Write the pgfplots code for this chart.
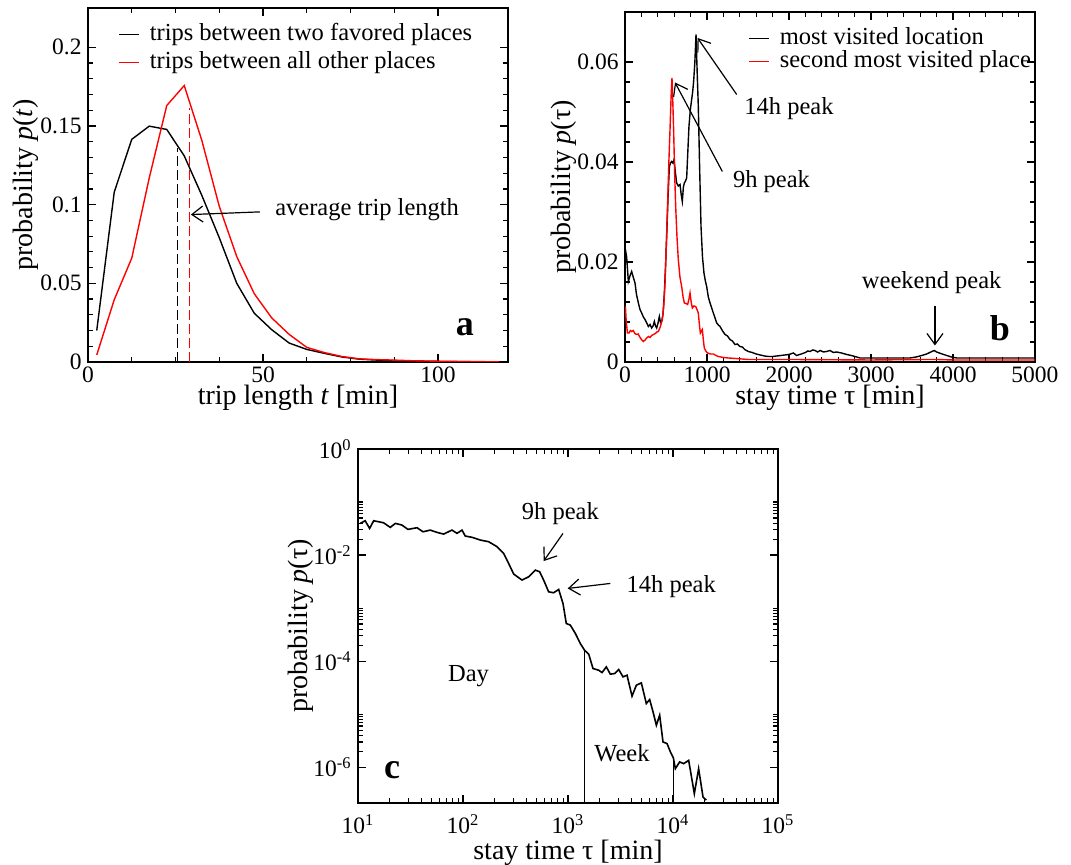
\documentclass[border=0pt]{standalone}
\usepackage{fontspec}
\setmainfont{Liberation Serif}
\usepackage{pgfplots}
\pgfplotsset{compat=1.18}
\usetikzlibrary{arrows.meta}

\tikzset{
  note/.style={font=\fontsize{12.25}{14}\selectfont},
  tag/.style={font=\bfseries\fontsize{18}{20}\selectfont},
  arr/.style={line width=0.6pt, -{Straight Barb[length=5.5pt,width=8pt]}},
}
\pgfplotsset{
  panel/.style={
    scale only axis,
    scaled ticks=false,
    axis line style={line width=0.7pt},
    tick style={line width=0.6pt, black},
    major tick length=4pt, minor tick length=2.5pt,
    tick align=inside,
    tick label style={font=\fontsize{11.75}{14}\selectfont},
    /pgf/number format/assume math mode=true,
    every axis x label/.style={at={(axis description cs:0.5,0)}, anchor=base,
      yshift=-21.5pt, inner sep=0pt, font=\fontsize{14}{16}\selectfont},
    every axis y label/.style={rotate=90, anchor=center, inner sep=0pt,
      font=\fontsize{14}{16}\selectfont},
    x tick label style={anchor=base, yshift=-10.5pt, inner sep=0pt},
    y tick label style={anchor=east, xshift=-3pt, inner sep=0pt},
    legend image code/.code={\draw[#1] (0pt,0pt) -- (10pt,0pt);},
    legend cell align=left,
    legend style={draw=none, fill=none, font=\fontsize{12.25}{14}\selectfont,
      anchor=north west, inner sep=0pt, column sep=5pt,
      nodes={inner sep=0pt, text height=9pt, text depth=3pt}},
  },
}

\begin{document}
\begin{tikzpicture}

% ---- panel a: trip length distribution
\begin{axis}[panel, at={(44pt,251.5pt)}, anchor=south west,
  width=210pt, height=177pt,
  xmin=0, xmax=120, ymin=0, ymax=0.225,
  xtick={0,50,100}, xticklabels={0,50,100}, minor x tick num=3,
  ytick={0,0.05,0.1,0.15,0.2}, yticklabels={0,0.05,0.1,0.15,0.2}, minor y tick num=4,
  xlabel={trip length \textit{t} [min]},
  ylabel={probability \textit{p}(\textit{t})},
  ylabel style={at={(axis description cs:-0.1476,0.5)}},
  legend style={at={(axis description cs:0,1)}, xshift=15pt, yshift=-7pt, row sep=2pt},
]
\addplot[black, line width=0.7pt] coordinates {
 (2.5,0.0200) (7.5,0.108) (12.5,0.1415) (17.5,0.1499) (22.5,0.1478) (27.5,0.131)
 (32.5,0.106) (37.5,0.079) (42.5,0.050) (47.5,0.031) (52.5,0.0205) (57.5,0.012)
 (62.5,0.008) (67.5,0.0055) (72.5,0.0032) (77.5,0.0018) (82.5,0.0012) (87.5,0.0008)
 (92.5,0.0006) (97.5,0.0004) (102.5,0.0003) (107.5,0.0002) (112.5,0.00015) (117.5,0.0001)};
\addlegendentry{trips between two favored places}
\addplot[red, line width=0.7pt] coordinates {
 (2.5,0.0045) (7.5,0.0396) (12.5,0.066) (17.5,0.117) (22.5,0.163) (27.5,0.1757)
 (32.5,0.141) (37.5,0.099) (42.5,0.067) (47.5,0.0434) (52.5,0.028) (57.5,0.0175)
 (62.5,0.0093) (67.5,0.006) (72.5,0.0035) (77.5,0.002) (82.5,0.0015) (87.5,0.0012)
 (92.5,0.0008) (97.5,0.0006) (102.5,0.0004) (107.5,0.0003) (112.5,0.0002) (117.5,0.0001)};
\addlegendentry{trips between all other places}
\addplot[black, line width=0.75pt, dash pattern=on 5pt off 2pt, forget plot] coordinates {(25.5,0) (25.5,0.136)};
\addplot[red, line width=0.8pt, dash pattern=on 5pt off 2pt, forget plot] coordinates {(29.05,0) (29.05,0.1616)};
\draw[arr] (axis cs:49.1,0.0954) -- (axis cs:29.4,0.0937);
\node[note, anchor=west] at (axis cs:51.5,0.0969) {average trip length};
\node[tag] at (axis cs:107.7,0.0218) {a};
\end{axis}

% ---- panel b: stay time, linear
\begin{axis}[panel, at={(312.5pt,251.5pt)}, anchor=south west,
  width=205pt, height=175pt,
  xmin=0, xmax=5000, ymin=0, ymax=0.07,
  xtick={0,1000,2000,3000,4000,5000}, xticklabels={0,1000,2000,3000,4000,5000}, minor x tick num=4,
  ytick={0,0.02,0.04,0.06}, yticklabels={0,0.02,0.04,0.06}, minor y tick num=4,
  xlabel={stay time τ [min]},
  ylabel={probability \textit{p}(τ)},
  ylabel style={at={(axis description cs:-0.1488,0.5)}},
  legend style={at={(axis description cs:0,1)}, xshift=61.5pt, yshift=-7pt, row sep=-0.3pt},
]
\addplot[black, line width=0.7pt] coordinates {
 (5,0.0225) (20,0.021) (41,0.0161) (60,0.0172) (81,0.0181) (100,0.017) (122,0.0158)
 (140,0.0135) (163,0.0118) (183,0.0105) (203,0.0098) (224,0.009) (244,0.0085) (265,0.0078)
 (285,0.0071) (305,0.0075) (325,0.0068) (342,0.0072) (358,0.0081) (372,0.0072) (386,0.0068)
 (403,0.0078) (419,0.0091) (433,0.0079) (447,0.0081) (463,0.0095) (480,0.0138) (494,0.019)
 (508,0.0251) (525,0.033) (541,0.0391) (555,0.0398) (569,0.0401) (583,0.0398) (598,0.0405)
 (614,0.038) (630,0.0358) (650,0.0352) (671,0.0355) (685,0.0335) (699,0.0321) (712,0.035)
 (724,0.0358) (738,0.0362) (752,0.0368) (766,0.042) (780,0.0471) (797,0.0505) (813,0.0525)
 (825,0.054) (837,0.0561) (852,0.060) (866,0.0655) (880,0.058) (894,0.0511) (910,0.039)
 (927,0.0271) (945,0.021) (963,0.0178) (980,0.0162) (996,0.0151) (1016,0.013) (1037,0.0118)
 (1057,0.0108) (1077,0.0098) (1098,0.0088) (1118,0.0078) (1139,0.0074) (1159,0.0071)
 (1190,0.0062) (1220,0.0055) (1250,0.0052) (1280,0.0045) (1310,0.0042) (1341,0.0035)
 (1370,0.0036) (1400,0.0031) (1430,0.0030) (1460,0.0025) (1504,0.0021) (1550,0.0019)
 (1600,0.0016) (1650,0.0014) (1700,0.0012) (1750,0.0011) (1800,0.0011) (1850,0.0012)
 (1900,0.0013) (1950,0.0014) (2000,0.0015) (2053,0.0018) (2093,0.0013) (2150,0.0016)
 (2200,0.0019) (2230,0.0022) (2256,0.0021) (2290,0.0024) (2317,0.0023) (2350,0.0020)
 (2380,0.0023) (2420,0.0020) (2459,0.0021) (2500,0.0023) (2540,0.0019) (2581,0.0020)
 (2640,0.0018) (2703,0.0015) (2760,0.0013) (2825,0.0010) (2866,0.0008) (3000,0.0008)
 (3200,0.0008) (3400,0.0008) (3476,0.0008) (3550,0.0010) (3620,0.0013) (3679,0.0016)
 (3730,0.0020) (3770,0.0023) (3800,0.0020) (3850,0.0017) (3923,0.0013) (3980,0.0010)
 (4045,0.0008) (4500,0.0008) (5000,0.0008)};
\addlegendentry{most visited location}
\addplot[red, line width=0.7pt] coordinates {
 (5,0.0111) (15,0.008) (30,0.0058) (49,0.0058) (65,0.0063) (81,0.0061) (100,0.0063)
 (120,0.0057) (142,0.0055) (160,0.0056) (180,0.0050) (200,0.0045) (224,0.0041) (245,0.0044)
 (265,0.0048) (285,0.0051) (305,0.0049) (325,0.0053) (346,0.0055) (370,0.0057) (390,0.0060)
 (407,0.0061) (430,0.0070) (455,0.0085) (472,0.011) (488,0.0158) (505,0.024) (520,0.0318)
 (535,0.040) (549,0.0465) (562,0.053) (573,0.0568) (583,0.052) (593,0.0465) (605,0.038)
 (618,0.0311) (634,0.025) (650,0.0205) (670,0.017) (691,0.0151) (708,0.0130) (724,0.0118)
 (744,0.0117) (764,0.0115) (779,0.0125) (793,0.0138) (807,0.0120) (821,0.0108) (840,0.0112)
 (862,0.0111) (878,0.0105) (894,0.0098) (907,0.0075) (919,0.0058) (931,0.0062) (943,0.0065)
 (955,0.0045) (967,0.0028) (985,0.0022) (1008,0.0018) (1040,0.0016) (1077,0.0016)
 (1110,0.0013) (1138,0.0011) (1200,0.0009) (1260,0.0008) (1350,0.0007) (1500,0.0005)
 (2000,0.0005) (3000,0.0004) (3700,0.0005) (3800,0.0005) (4000,0.0004) (5000,0.0004)};
\addlegendentry{second most visited place}
\draw[arr] (axis cs:1362,0.0535) -- (axis cs:885,0.0648);
\node[note, anchor=west] at (axis cs:1370,0.0507) {14h peak};
\draw[arr] (axis cs:1187,0.0381) -- (axis cs:610,0.0559);
\node[note, anchor=west] at (axis cs:1232,0.0361) {9h peak};
\node[note] at (axis cs:3740,0.0159) {weekend peak};
\draw[arr] (axis cs:3780,0.0111) -- (axis cs:3780,0.0033);
\node[tag] at (axis cs:4573,0.0068) {b};
\end{axis}

% ---- panel c: stay time, log-log
\begin{axis}[panel, at={(179pt,31pt)}, anchor=south west,
  width=210pt, height=177pt,
  xmode=log, ymode=log,
  xmin=10, xmax=100000, ymin=2.12e-7, ymax=1,
  xtick={10,100,1000,10000,100000},
  xticklabels={10\textsuperscript{1},10\textsuperscript{2},10\textsuperscript{3},10\textsuperscript{4},10\textsuperscript{5}},
  ytick={1,1e-2,1e-4,1e-6},
  yticklabels={10\textsuperscript{0},10\textsuperscript{-2},10\textsuperscript{-4},10\textsuperscript{-6}},
  minor ytick={2e-2,3e-2,4e-2,5e-2,6e-2,7e-2,8e-2,9e-2,1e-1,
               2e-4,3e-4,4e-4,5e-4,6e-4,7e-4,8e-4,9e-4,1e-3,
               2e-6,3e-6,4e-6,5e-6,6e-6,7e-6,8e-6,9e-6,1e-5},
  x tick label style={yshift=-5pt},
  xlabel={stay time τ [min]},
  xlabel style={yshift=-7pt},
  ylabel={probability \textit{p}(τ)},
  ylabel style={at={(axis description cs:-0.1357,0.5)}},
]
\addplot[black, line width=0.8pt] coordinates {
 (10.5,0.0396) (11.7,0.0444) (12.9,0.0318) (14.1,0.0444) (17.5,0.0407) (20.3,0.0333)
 (22.7,0.0396) (26.2,0.0368) (29.9,0.0305) (36.5,0.0328) (41.6,0.0275) (48.8,0.0296)
 (56.5,0.0268) (65.4,0.0249) (78.5,0.0296) (87.7,0.0257) (97.8,0.0296) (105,0.0229)
 (122,0.0216) (146,0.0192) (175,0.0179) (211,0.0144) (244,0.0107) (272,0.00696)
 (304,0.00438) (365,0.00338) (422,0.0039) (488,0.00521) (537,0.00485) (586,0.00338)
 (654,0.00203) (730,0.00195) (815,0.00225) (896,0.00122) (963,0.000514) (1052,0.000478)
 (1175,0.000333) (1310,0.000215) (1440,0.00016) (1574,0.000136) (1730,7.27e-5)
 (1959,6.76e-5) (2108,6.1e-5) (2317,7.8e-5) (2529,5.69e-5) (2781,5.85e-5) (3040,6.96e-5)
 (3342,5.06e-5) (3647,5.44e-5) (4071,2.19e-5) (4476,3.52e-5) (4992,3.9e-5) (5569,1.59e-5)
 (5993,1.89e-5) (6450,1.11e-5) (6940,6.2e-6) (7463,9.6e-6) (8031,3.0e-6) (8770,2.8e-6)
 (9437,1.95e-6) (10080,1.5e-6) (10520,9.4e-7) (11570,1.26e-6) (12640,1.17e-6)
 (14100,1.35e-6) (15960,3.18e-7) (17540,9.4e-7) (19310,2.75e-7) (20750,2.4e-7)};
\addplot[black, line width=0.6pt] coordinates {(1440,2.12e-7) (1440,0.00016)};
\addplot[black, line width=0.6pt] coordinates {(10080,2.12e-7) (10080,1.5e-6)};
\node[note] at (axis cs:845,0.0611) {9h peak};
\draw[arr] (axis cs:896,0.0256) -- (axis cs:586,0.0077);
\node[note, anchor=west] at (axis cs:3105,0.00253) {14h peak};
\draw[arr] (axis cs:2529,0.00292) -- (axis cs:993,0.00235);
\node[note] at (axis cs:113,5.2e-5) {Day};
\node[note] at (axis cs:3266,1.81e-6) {Week};
\node[tag] at (axis cs:21.1,8.8e-7) {c};
\end{axis}

\pgfresetboundingbox
\useasboundingbox (0,0) rectangle (535.5pt,432.5pt);
\end{tikzpicture}
\end{document}
